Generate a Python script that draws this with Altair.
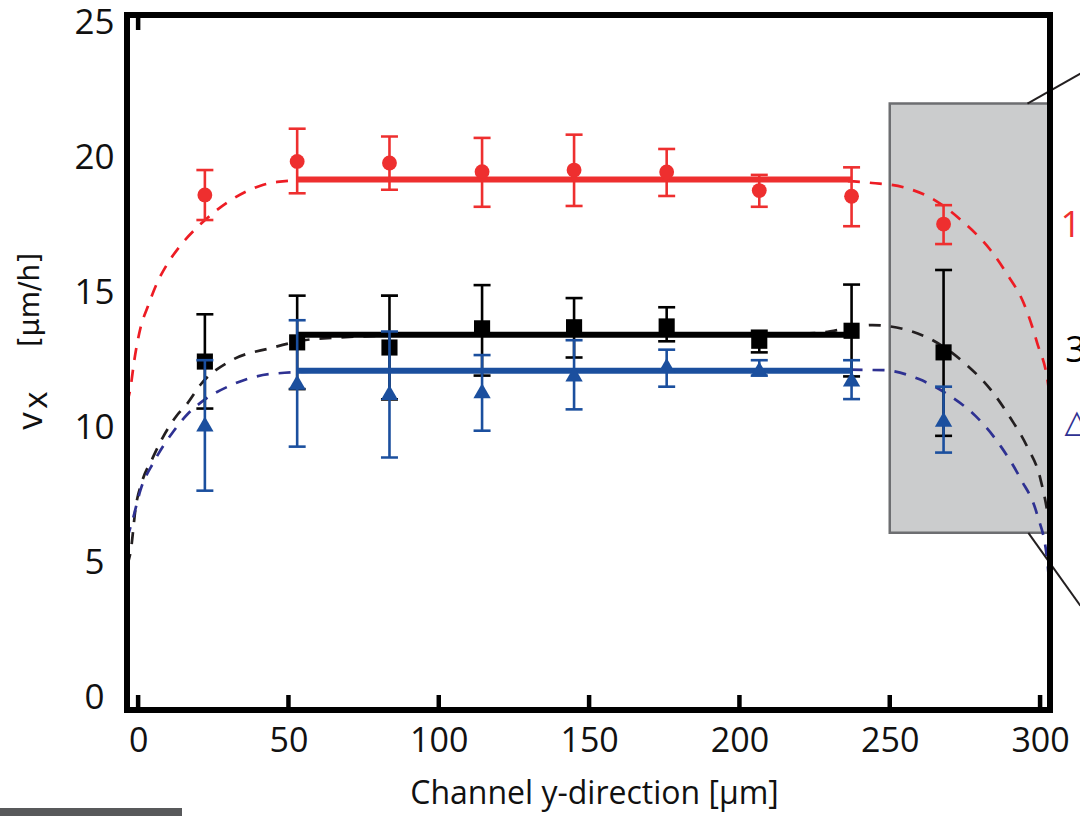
import altair as alt
import pandas as pd

# ---------------- data ----------------
x_pos = [22.2, 52.9, 83.6, 114.4, 145.0, 175.8, 206.6, 237.3, 267.9]

red_v = [18.62, 19.86, 19.80, 19.48, 19.54, 19.47, 18.78, 18.57, 17.54]
red_lo = [17.69, 18.68, 18.81, 18.18, 18.21, 18.58, 18.18, 17.46, 16.80]
red_hi = [19.54, 21.07, 20.78, 20.73, 20.85, 20.32, 19.36, 19.64, 18.24]

blk_v = [12.45, 13.16, 12.97, 13.68, 13.72, 13.75, 13.22, 13.59, 12.79]
blk_lo = [10.71, 11.43, 11.05, 11.93, 12.60, 13.20, 12.79, 11.90, 9.70]
blk_hi = [14.20, 14.89, 14.89, 15.28, 14.80, 14.46, 13.59, 15.30, 15.84]

blu_v = [10.14, 11.68, 11.30, 11.37, 11.99, 12.30, 12.17, 11.80, 10.31]
blu_lo = [7.67, 9.30, 8.90, 9.89, 10.68, 11.52, 11.93, 11.06, 9.08]
blu_hi = [12.50, 13.98, 13.56, 12.69, 13.24, 12.89, 12.50, 12.50, 11.52]

# plateau fits (solid lines)
fit_x0 = 52.9
fit_x1 = 237.3
red_fit = 19.19
blk_fit = 13.44
blu_fit = 12.11

# dashed profile curves
red_cx = [-3.7, -2.5, -1.4, 0.8, 3.1, 6.4, 9.7, 13.6, 20.8, 29.7, 40.7, 46.3, 60, 100, 150,
          200, 232, 244.2, 254.7, 265.2, 274.6, 283.5, 289.1, 294.6, 299.0, 302.9, 303.5]
red_cv = [10.9, 11.5, 12.4, 13.7, 14.45, 15.38, 16.06, 16.68, 17.54, 18.34, 18.96, 19.1, 19.18, 19.19, 19.19,
          19.19, 19.15, 19.06, 18.9, 18.41, 17.6, 16.58, 15.67, 14.6, 13.15, 11.42, 10.6]

blk_cx = [-3.7, -2.5, -0.8, 1.4, 4.7, 8.0, 12.5, 16.4, 20.8, 30.8, 44.1, 60, 100, 150, 200, 225, 237,
          244.2, 254.7, 264.6, 275.2, 283.5, 290.2, 295.7, 300.1, 302.9, 303.5]
blk_cv = [4.9, 5.4, 7.05, 8.04, 8.85, 9.6, 10.4, 10.9, 11.6, 12.48, 12.95, 13.3, 13.44, 13.45, 13.46, 13.5, 13.7,
          13.8, 13.65, 13.22, 12.36, 11.42, 10.35, 9.3, 8.11, 6.52, 6.0]

blu_cx = [-3.7, -1.9, 0.8, 5.3, 11.9, 16.4, 20.8, 30.8, 44.1, 60, 100, 150, 200, 232,
          248, 259.7, 270.8, 278.5, 287.0, 293.5, 299.0, 302.4, 303.5]
blu_cv = [5.9, 6.56, 7.7, 8.75, 9.89, 10.5, 10.93, 11.57, 11.99, 12.08, 12.11, 12.11, 12.12, 12.15,
          12.13, 11.8, 11.12, 10.44, 9.3, 8.11, 6.79, 5.07, 3.5]

# zoom box and its connector lines
box_x = [250.0, 306.0]
box_y = [6.11, 22.0]
conn_x1 = [295.8, 296.1]
conn_y1 = [22.0, 6.11]
conn_x2 = [313.4, 313.4]
conn_y2 = [23.11, 3.41]

# clipped labels at the right edge
side_text = ["1", "3", "\u25B3"]
side_x = [306.8, 308.4, 308.1]
side_y = [17.48, 12.85, 10.22]

x_ticks = [0, 50, 100, 150, 200, 250, 300]
y_ticks = [0, 5, 10, 15, 20, 25]

# ---------------- styling ----------------
W, H = 923, 695
XDOM = [-3.7, 303.3]
YDOM = [-0.45, 25.28]
FONT = "Open Sans"
RED = "#ee2f2f"
RED_D = "#ed1c24"
BLK = "#000000"
BLK_D = "#231f20"
BLU = "#1b4f9e"
BLU_D = "#2e3192"

xscale = alt.Scale(domain=XDOM, nice=False, zero=False)
yscale = alt.Scale(domain=YDOM, nice=False, zero=False)
xaxis = alt.Axis(values=x_ticks, ticks=False, domain=False, grid=False,
                 labelFont=FONT, labelFontSize=34, labelColor="#111111",
                 labelPadding=14, labelFlush=False, labelOverlap=False,
                 title="Channel y-direction [µm]", titleFont=FONT, titleFontSize=32,
                 titleFontWeight="normal", titleColor="#111111",
                 titleY=93, titleX=467, titleBaseline="alphabetic")
yaxis = alt.Axis(values=y_ticks, ticks=False, domain=False, grid=False,
                 labelFont=FONT, labelFontSize=35, labelColor="#111111",
                 labelAlign="center", labelPadding=33, labelFlush=False,
                 labelOverlap=False, title="")


def X(f):
    return alt.X(f"{f}:Q", scale=xscale, axis=xaxis)


def Y(f):
    return alt.Y(f"{f}:Q", scale=yscale, axis=yaxis)


one = pd.DataFrame({"k": [0]})
layers = []

# gray zoom box
df_box = pd.DataFrame({"x1": [box_x[0]], "x2": [box_x[1]], "y1": [box_y[0]], "y2": [box_y[1]]})
layers.append(alt.Chart(df_box).mark_rect(fill="#cbcccd", stroke="#6d6e71", strokeWidth=2.5, clip=True)
              .encode(x=X("x1"), x2=alt.X2("x2"), y=Y("y1"), y2=alt.Y2("y2")))

# dashed curves
for cx, cv, col in [(red_cx, red_cv, RED_D), (blk_cx, blk_cv, BLK_D), (blu_cx, blu_cv, BLU_D)]:
    d = pd.DataFrame({"x": cx, "v": cv})
    layers.append(alt.Chart(d).mark_line(color=col, strokeWidth=2.7, strokeDash=[12, 10],
                                         interpolate="monotone", clip=True)
                  .encode(x=X("x"), y=Y("v")))

series = [
    (blk_v, blk_lo, blk_hi, blk_fit, BLK, "square", 260),
    (blu_v, blu_lo, blu_hi, blu_fit, BLU, "triangle-up", 300),
    (red_v, red_lo, red_hi, red_fit, RED, "circle", 220),
]
for v, lo, hi, fit, col, shape, size in series:
    d = pd.DataFrame({"x": x_pos, "v": v, "lo": lo, "hi": hi})
    layers.append(alt.Chart(d).mark_rule(color=col, strokeWidth=2.6)
                  .encode(x=X("x"), y=Y("lo"), y2=alt.Y2("hi")))
    layers.append(alt.Chart(d).mark_tick(color=col, orient="horizontal", size=17, thickness=2.6, opacity=1)
                  .encode(x=X("x"), y=Y("lo")))
    layers.append(alt.Chart(d).mark_tick(color=col, orient="horizontal", size=17, thickness=2.6, opacity=1)
                  .encode(x=X("x"), y=Y("hi")))
    df_fit = pd.DataFrame({"x0": [fit_x0], "x1": [fit_x1], "v": [fit]})
    layers.append(alt.Chart(df_fit).mark_rule(color=col, strokeWidth=6)
                  .encode(x=X("x0"), x2=alt.X2("x1"), y=Y("v")))
    layers.append(alt.Chart(d).mark_point(filled=True, shape=shape, size=size, color=col, opacity=1)
                  .encode(x=X("x"), y=Y("v")))

# connector lines leaving the box
df_conn = pd.DataFrame({"x1": conn_x1, "y1": conn_y1, "x2": conn_x2, "y2": conn_y2})
layers.append(alt.Chart(df_conn).mark_rule(color=BLK_D, strokeWidth=2)
              .encode(x=X("x1"), y=Y("y1"), x2=alt.X2("x2"), y2=alt.Y2("y2")))

# clipped labels at the right edge
for t, sx, sy, col, fnt, fs in zip(side_text, side_x, side_y, [RED, BLK, BLU_D],
                                   [FONT, FONT, "DejaVu Sans"], [36, 36, 32]):
    d = pd.DataFrame({"x": [sx], "y": [sy], "t": [t]})
    layers.append(alt.Chart(d).mark_text(align="left", baseline="middle", font=fnt, fontSize=fs, color=col)
                  .encode(x=X("x"), y=Y("y"), text="t:N"))

# inward x ticks
df_t = pd.DataFrame({"t": x_ticks})
layers.append(alt.Chart(df_t).mark_rule(color=BLK, strokeWidth=4.5)
              .encode(x=X("t"), y=alt.value(H - 15), y2=alt.value(H)))
df_t0 = pd.DataFrame({"t": [0]})
layers.append(alt.Chart(df_t0).mark_rule(color=BLK, strokeWidth=4.5)
              .encode(x=X("t"), y=alt.value(0), y2=alt.value(15)))

# frame
layers.append(alt.Chart(one).mark_rect(fillOpacity=0, stroke=BLK, strokeWidth=6)
              .encode(x=alt.value(0), x2=alt.value(W), y=alt.value(0), y2=alt.value(H)))

# y-axis title: v, subscript x, unit
layers.append(alt.Chart(one).mark_text(text="v", angle=270, align="center", baseline="alphabetic",
                                       font=FONT, fontSize=35, color="#111111")
              .encode(x=alt.value(-85), y=alt.value(406)))
layers.append(alt.Chart(one).mark_text(text="x", angle=270, align="center", baseline="alphabetic",
                                       font=FONT, fontSize=33, color="#111111")
              .encode(x=alt.value(-80), y=alt.value(385)))
layers.append(alt.Chart(one).mark_text(text="[µm/h]", angle=270, align="center", baseline="alphabetic",
                                       font="DejaVu Sans", fontSize=28, color="#111111")
              .encode(x=alt.value(-88), y=alt.value(285)))

# dark bar fragment at bottom-left
layers.append(alt.Chart(one).mark_rect(color="#58595b")
              .encode(x=alt.value(-127), x2=alt.value(55), y=alt.value(793), y2=alt.value(805)))

chart = alt.layer(*layers).properties(
    width=W, height=H,
    autosize=alt.AutoSizeParams(type="none"),
    padding={"left": 127, "top": 15, "right": 30, "bottom": 106},
    background="white",
).configure_view(strokeWidth=0)

chart.save("out.html", embed_options={"renderer": "svg", "actions": False})
